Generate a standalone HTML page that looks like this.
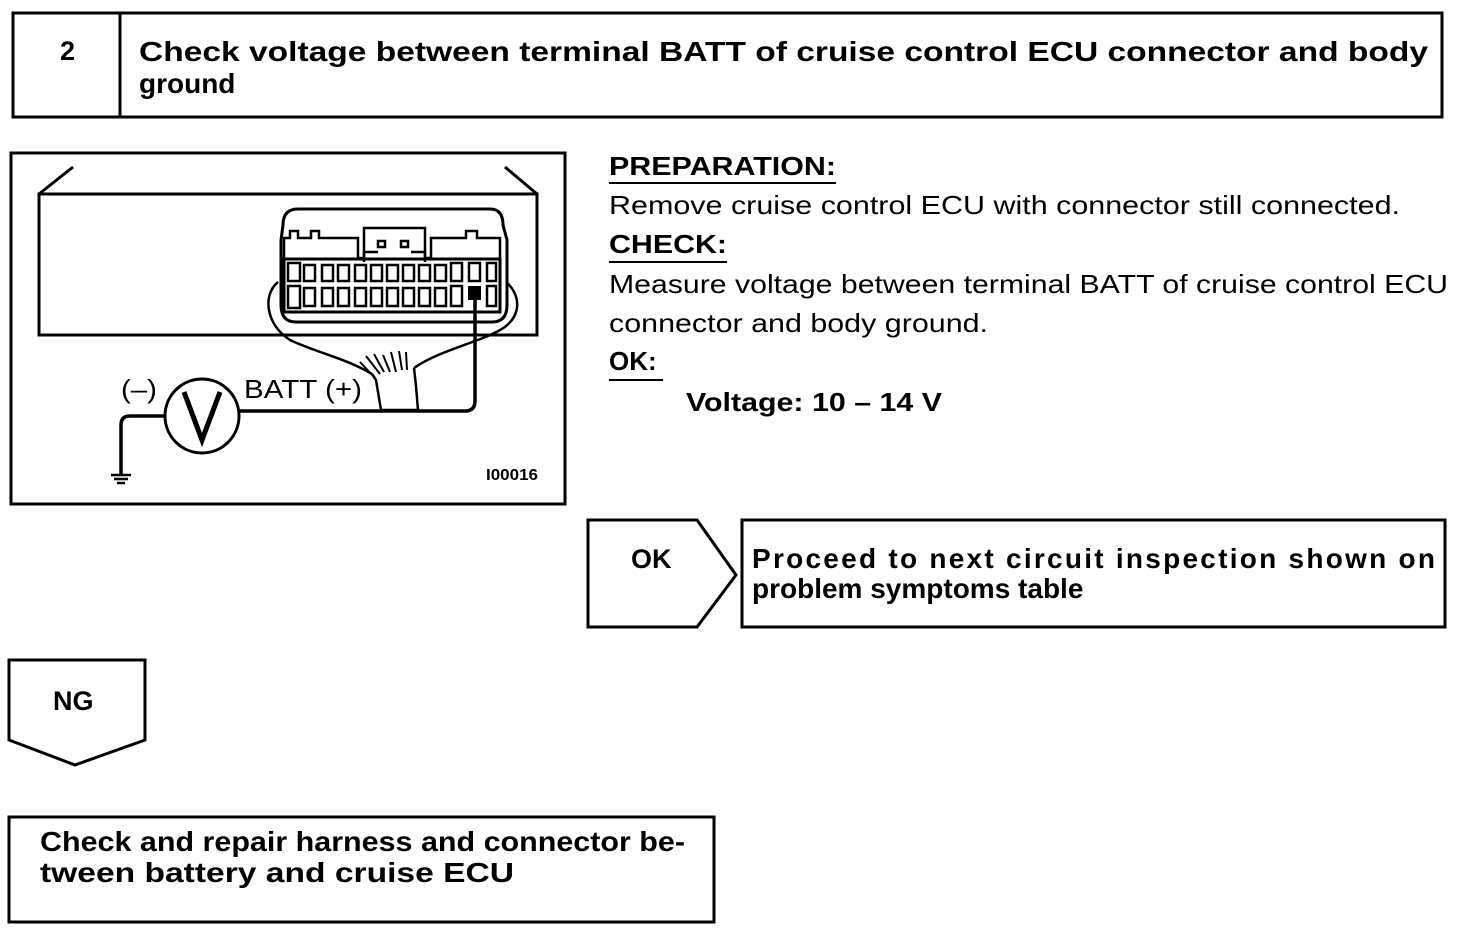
<!DOCTYPE html>
<html><head><meta charset="utf-8"><style>
html,body{margin:0;padding:0;background:#fff;}
svg{display:block;}
text{font-family:"Liberation Sans",Arial,sans-serif;fill:#000;}
</style></head><body>
<svg width="1472" height="934" viewBox="0 0 1472 934" xmlns="http://www.w3.org/2000/svg">
<g fill="none" stroke="#000" stroke-width="3">
<rect x="13" y="13" width="1429" height="104"/>
<line x1="120" y1="13" x2="120" y2="117"/>
<rect x="11" y="153" width="554" height="351"/>
<polygon points="588,520 697,520 736,575 697,627 588,627"/>
<rect x="742" y="520" width="703" height="107"/>
<polygon points="9,660 145,660 145,740 75,765 9,740"/>
<rect x="9" y="817" width="705" height="105"/>
</g>
<text x="60" y="60" font-size="27" font-weight="bold">2</text>
<text x="139" y="61" font-size="28" font-weight="bold" textLength="1289" lengthAdjust="spacingAndGlyphs">Check voltage between terminal BATT of cruise control ECU connector and body</text>
<text x="139" y="93" font-size="28" font-weight="bold">ground</text>
<text x="631" y="568" font-size="27" font-weight="bold">OK</text>
<text x="752" y="568" font-size="28" font-weight="bold" textLength="683" lengthAdjust="spacing">Proceed to next circuit inspection shown on</text>
<text x="752" y="598" font-size="28" font-weight="bold">problem symptoms table</text>
<text x="53" y="710" font-size="27" font-weight="bold">NG</text>
<text x="40" y="851" font-size="28" font-weight="bold" textLength="645" lengthAdjust="spacingAndGlyphs">Check and repair harness and connector be-</text>
<text x="40" y="882" font-size="28" font-weight="bold" textLength="474" lengthAdjust="spacingAndGlyphs">tween battery and cruise ECU</text>

<text x="609" y="175" font-size="26" font-weight="bold" textLength="227" lengthAdjust="spacingAndGlyphs">PREPARATION:</text>
<line x1="609" y1="183" x2="836" y2="183" stroke="#000" stroke-width="2"/>
<text x="609" y="214" font-size="26" textLength="791" lengthAdjust="spacingAndGlyphs">Remove cruise control ECU with connector still connected.</text>
<text x="609" y="253" font-size="26" font-weight="bold" textLength="118" lengthAdjust="spacingAndGlyphs">CHECK:</text>
<line x1="609" y1="262" x2="727" y2="262" stroke="#000" stroke-width="2"/>
<text x="609" y="293" font-size="26" textLength="839" lengthAdjust="spacingAndGlyphs">Measure voltage between terminal BATT of cruise control ECU</text>
<text x="609" y="332" font-size="26" textLength="379" lengthAdjust="spacingAndGlyphs">connector and body ground.</text>
<text x="609" y="370" font-size="26" font-weight="bold">OK:</text>
<line x1="609" y1="380" x2="663" y2="380" stroke="#000" stroke-width="2"/>
<text x="686" y="411" font-size="26" font-weight="bold" textLength="256" lengthAdjust="spacingAndGlyphs">Voltage: 10 – 14 V</text>

<!-- diagram -->
<g fill="none" stroke="#000" stroke-width="3">
<rect x="39" y="194" width="498" height="141"/>
<line x1="39" y1="194" x2="73" y2="167"/>
<line x1="537" y1="194" x2="505" y2="167"/>
<!-- loops -->
<path d="M278,282 C262,295 266,325 290,340 C315,352 345,358 372,374" stroke-width="2.5"/>
<path d="M505,281 C522,295 522,318 500,330 C480,342 440,350 414,368" stroke-width="2.5"/>
<!-- connector -->
<path d="M283,225 Q283,209 298,209 L490,209 Q503,209 503,225 L507,240 L507,305 Q507,322 492,322 L296,322 Q281,322 281,305 L281,240 Z" fill="#fff"/>
<path d="M284,265 L284,238 L290,238 L290,231 L298,231 L298,238 L311,238 L311,231 L319,231 L319,238 L358,238 L358,258 L364,258 L364,228 L425,228 L425,258 L431,258 L431,238 L466,238 L466,231 L477,231 L477,238 L500,238 L500,265" stroke-width="2.5"/>
<path d="M364,262 L364,252 L378,252 M425,262 L425,252 L411,252" stroke-width="2.5"/>
<rect x="378" y="241" width="7" height="6" stroke-width="2.5"/><rect x="401" y="241" width="7" height="6" stroke-width="2.5"/>
<rect x="284" y="259" width="216" height="53" stroke-width="3"/>
<!-- harness bundle -->
<path d="M372,374 L376,380 L381,410 L418,410 L416,386 L414,368" fill="#fff" stroke-width="2.5"/>
<path d="M360,362 L375,378 M366,356 L380,374 M374,354 L384,372 M383,355 L390,372 M391,352 L396,372 M399,351 L402,370 M406,352 L407,370" stroke-width="2"/>
<!-- wires -->
<path d="M475,296 L475,401 Q475,411 465,411 L239,411" stroke-width="3.5"/>
<circle cx="202" cy="416" r="37"/>
<path d="M165,416 L130,416 Q121,416 121,425 L121,474" stroke-width="3.5"/>
<path d="M111,475 L131,475 M114,479 L128,479 M117,483 L125,483" stroke-width="2.5"/>
<path d="M184,392 L202,440 L220,392" stroke-width="5"/>
</g>
<g fill="#fff" stroke="#000" stroke-width="2.5">
<rect x="288" y="263" width="12" height="18"/><rect x="304" y="265" width="11" height="16"/><rect x="322" y="265" width="11" height="16"/><rect x="338" y="265" width="11" height="16"/><rect x="355" y="265" width="11" height="16"/><rect x="371" y="265" width="11" height="16"/><rect x="387" y="265" width="11" height="16"/><rect x="403" y="265" width="11" height="16"/><rect x="419" y="265" width="11" height="16"/><rect x="435" y="265" width="11" height="16"/><rect x="451" y="263" width="11" height="18"/><rect x="469" y="263" width="11" height="18"/><rect x="487" y="263" width="9" height="18"/>
<rect x="288" y="286" width="12" height="22"/><rect x="304" y="288" width="11" height="18"/><rect x="322" y="288" width="11" height="18"/><rect x="338" y="288" width="11" height="18"/><rect x="355" y="288" width="11" height="18"/><rect x="371" y="288" width="11" height="18"/><rect x="387" y="288" width="11" height="18"/><rect x="403" y="288" width="11" height="18"/><rect x="419" y="288" width="11" height="18"/><rect x="435" y="288" width="11" height="18"/><rect x="451" y="286" width="11" height="20"/><rect x="487" y="286" width="9" height="20"/>
</g>
<rect x="468" y="286" width="13" height="14" fill="#000"/>
<text x="121" y="398" font-size="26" textLength="36" lengthAdjust="spacingAndGlyphs">(–)</text>
<text x="244" y="398" font-size="26" textLength="118" lengthAdjust="spacingAndGlyphs">BATT (+)</text>
<text x="486" y="480" font-size="16" font-weight="bold" textLength="52" lengthAdjust="spacingAndGlyphs">I00016</text>
</svg>
</body></html>
